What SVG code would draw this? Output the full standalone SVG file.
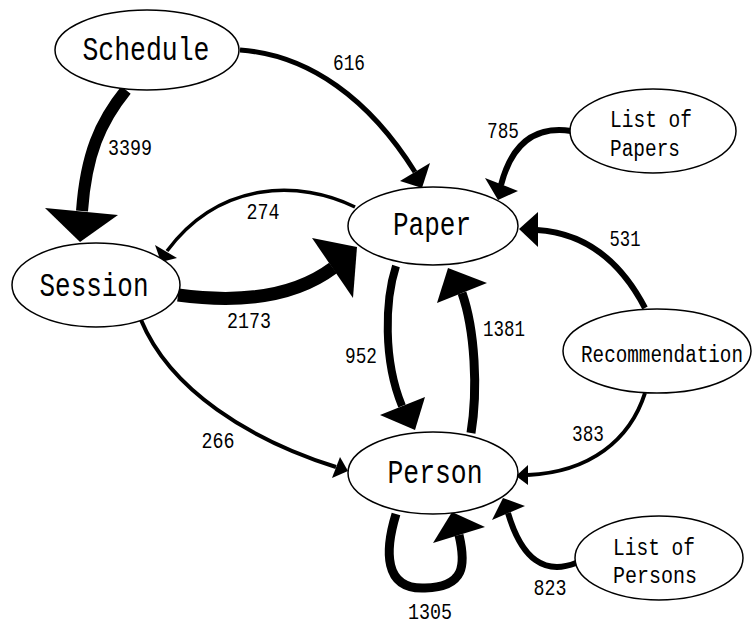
<svg xmlns="http://www.w3.org/2000/svg" width="754" height="625" viewBox="0 0 754 625">
<style>
  .node ellipse { fill: #ffffff; stroke: #000000; stroke-width: 1.5; }
  .nt { font-family: "Liberation Mono", "DejaVu Sans Mono", monospace; fill: #000; }
  .big { font-size: 34px; text-anchor: middle; }
  .small { font-size: 23px; }
  .lbl { font-family: "Liberation Mono", "DejaVu Sans Mono", monospace; font-size: 22px; fill: #000; text-anchor: middle; }
  .edge path { fill: none; stroke: #000000; stroke-linecap: butt; }
  .edge polygon { fill: #000000; stroke: none; }
</style>
<rect width="754" height="625" fill="#ffffff"/>
<g id="connectors">
  <g class="edge" id="e-schedule-session">
    <path d="M 126 90 C 100 122, 86 155, 82 211" stroke-width="12"/>
    <polygon points="45,208 118,215 80,242"/>
  </g>
  <g class="edge" id="e-schedule-paper">
    <path d="M 240 50 C 310 55, 370 100, 415 172" stroke-width="5"/>
    <polygon points="400,181 430,163 422,188"/>
  </g>
  <g class="edge" id="e-paper-session">
    <path d="M 355 207 C 300 180, 220 180, 167 251" stroke-width="3.5"/>
    <polygon points="155,245 177,258 161,262"/>
  </g>
  <g class="edge" id="e-session-paper">
    <path d="M 178 295 C 230 302, 290 300, 333 268" stroke-width="13"/>
    <polygon points="312,238 357,247 353,298"/>
  </g>
  <g class="edge" id="e-listpapers-paper">
    <path d="M 571 131 C 530 125, 510 150, 501 185" stroke-width="6"/>
    <polygon points="485,178 518,191 498,200"/>
  </g>
  <g class="edge" id="e-rec-paper">
    <path d="M 645 308 C 620 260, 585 233, 537 230" stroke-width="6"/>
    <polygon points="538,212 538,247 519,229"/>
  </g>
  <g class="edge" id="e-paper-person">
    <path d="M 396 266 C 385 300, 383 360, 402 406" stroke-width="8"/>
    <polygon points="380,415 425,397 415,430"/>
  </g>
  <g class="edge" id="e-person-paper">
    <path d="M 471 433 C 478 390, 475 330, 462 293" stroke-width="9"/>
    <polygon points="437,303 487,283 448,268"/>
  </g>
  <g class="edge" id="e-session-person">
    <path d="M 141 320 C 170 390, 250 440, 336 467" stroke-width="4"/>
    <polygon points="332,478 340,457 348,471"/>
  </g>
  <g class="edge" id="e-rec-person">
    <path d="M 645 393 C 630 440, 590 472, 528 475" stroke-width="4"/>
    <polygon points="528,465 528,485 516,476"/>
  </g>
  <g class="edge" id="e-listpersons-person">
    <path d="M 576 563 C 545 575, 522 560, 508 513" stroke-width="6"/>
    <polygon points="492,520 525,506 503,498"/>
  </g>
  <g class="edge" id="e-person-person">
    <path d="M 396 514 C 385 550, 383 590, 425 588 C 465 587, 466 565, 459 535" stroke-width="9"/>
    <polygon points="433,543 485,527 452,512"/>
  </g>
  <text class="lbl" x="349" y="70" textLength="32" lengthAdjust="spacingAndGlyphs">616</text>
  <text class="lbl" x="130" y="155" textLength="44" lengthAdjust="spacingAndGlyphs">3399</text>
  <text class="lbl" x="263" y="219" textLength="33" lengthAdjust="spacingAndGlyphs">274</text>
  <text class="lbl" x="249" y="328" textLength="44" lengthAdjust="spacingAndGlyphs">2173</text>
  <text class="lbl" x="361" y="363" textLength="32" lengthAdjust="spacingAndGlyphs">952</text>
  <text class="lbl" x="218" y="448" textLength="33" lengthAdjust="spacingAndGlyphs">266</text>
  <text class="lbl" x="503" y="138" textLength="32" lengthAdjust="spacingAndGlyphs">785</text>
  <text class="lbl" x="625" y="246" textLength="31" lengthAdjust="spacingAndGlyphs">531</text>
  <text class="lbl" x="504" y="336" textLength="42" lengthAdjust="spacingAndGlyphs">1381</text>
  <text class="lbl" x="588" y="441" textLength="32" lengthAdjust="spacingAndGlyphs">383</text>
  <text class="lbl" x="550" y="595" textLength="33" lengthAdjust="spacingAndGlyphs">823</text>
  <text class="lbl" x="430" y="619" textLength="44" lengthAdjust="spacingAndGlyphs">1305</text>
</g>
<g class="node" id="schedule">
  <ellipse cx="147" cy="50" rx="92" ry="40"/>
  <text class="nt big" x="146" y="60" textLength="127" lengthAdjust="spacingAndGlyphs">Schedule</text>
</g>
<g class="node" id="session">
  <ellipse cx="96" cy="285" rx="84" ry="42"/>
  <text class="nt big" x="94" y="296" textLength="109" lengthAdjust="spacingAndGlyphs">Session</text>
</g>
<g class="node" id="paper">
  <ellipse cx="433" cy="226" rx="85" ry="39"/>
  <text class="nt big" x="432" y="235" textLength="78" lengthAdjust="spacingAndGlyphs">Paper</text>
</g>
<g class="node" id="person">
  <ellipse cx="433" cy="473" rx="85" ry="41"/>
  <text class="nt big" x="435" y="483" textLength="95" lengthAdjust="spacingAndGlyphs">Person</text>
</g>
<g class="node" id="listpapers">
  <ellipse cx="653" cy="131" rx="83" ry="42"/>
  <text class="nt small" x="610" y="127" textLength="82" lengthAdjust="spacingAndGlyphs">List of</text>
  <text class="nt small" x="610" y="156" textLength="70" lengthAdjust="spacingAndGlyphs">Papers</text>
</g>
<g class="node" id="recommendation">
  <ellipse cx="657" cy="351" rx="94" ry="42"/>
  <text class="nt small" x="662" y="362" text-anchor="middle" textLength="162" lengthAdjust="spacingAndGlyphs">Recommendation</text>
</g>
<g class="node" id="listpersons">
  <ellipse cx="659" cy="558" rx="84" ry="42"/>
  <text class="nt small" x="613" y="555" textLength="82" lengthAdjust="spacingAndGlyphs">List of</text>
  <text class="nt small" x="613" y="583" textLength="84" lengthAdjust="spacingAndGlyphs">Persons</text>
</g>
</svg>
